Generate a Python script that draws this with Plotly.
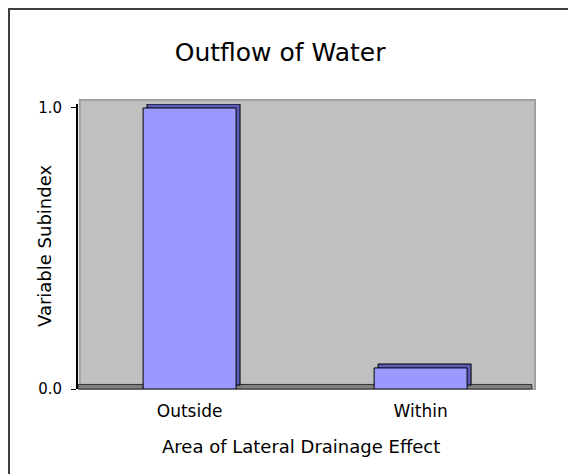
import plotly.graph_objects as go

categories = ['Outside', 'Within']
subindex = [1.0, 0.075]

bar_w = 0.4026
depth_x = 0.017
depth_y = 0.014

fig = go.Figure()

# back face for 3D look
fig.add_trace(go.Bar(
    x=categories, y=subindex, base=depth_y, width=bar_w, offset=-bar_w / 2 + depth_x,
    marker=dict(color='#5c5cb8', line=dict(color='black', width=1)),
    hoverinfo='skip',
))
fig.add_trace(go.Bar(
    x=categories, y=subindex, width=bar_w, offset=-bar_w / 2,
    marker=dict(color='#9999ff', line=dict(color='black', width=1)),
))

# outer frame
fig.add_shape(type='rect', xref='paper', yref='paper',
              x0=-0.151, x1=1.3, y0=-0.5, y1=1.333,
              line=dict(color='#404040', width=2), layer='below')
# back wall
fig.add_shape(type='rect', xref='paper', yref='paper',
              x0=0.004, x1=1.0, y0=0.0, y1=1.014,
              line=dict(color='#a0a0a0', width=2), fillcolor='#c0c0c0', layer='below')
# floor
fig.add_shape(type='rect', xref='paper', yref='paper',
              x0=0.0, x1=0.993, y0=0.0, y1=0.016,
              line=dict(color='#303030', width=1), fillcolor='#808080', layer='below')

# axis titles
fig.add_annotation(text='Variable Subindex', xref='paper', yref='paper',
                   x=-0.072, y=0.502, textangle=-90, showarrow=False,
                   xanchor='center', yanchor='middle', font=dict(size=18))
fig.add_annotation(text='Area of Lateral Drainage Effect', xref='paper', yref='paper',
                   x=0.488, y=-0.2035, showarrow=False,
                   xanchor='center', yanchor='middle', font=dict(size=18))

fig.update_layout(
    width=568, height=466,
    margin=dict(l=70, r=41, t=96, b=85),
    paper_bgcolor='white',
    plot_bgcolor='rgba(0,0,0,0)',
    showlegend=False,
    barmode='overlay',
    font=dict(family='DejaVu Sans', color='black', size=14),
    title=dict(text='Outflow of Water', x=0.479, xanchor='center', y=0.905, yanchor='middle',
               font=dict(size=25, color='black')),
)
fig.update_xaxes(
    showgrid=False, showline=False, ticks='', tickfont=dict(size=17),
    ticklabelstandoff=10,
    range=[-0.483, 1.495],
)
fig.update_yaxes(
    range=[0, 1.0142], tickvals=[0, 1], ticktext=['0.0', '1.0'],
    showgrid=False, zeroline=False, showline=True, linecolor='black', linewidth=2,
    ticks='outside', ticklen=5, tickcolor='black', tickfont=dict(size=15),
    ticklabelstandoff=6,
)

fig.write_html('out.html')
